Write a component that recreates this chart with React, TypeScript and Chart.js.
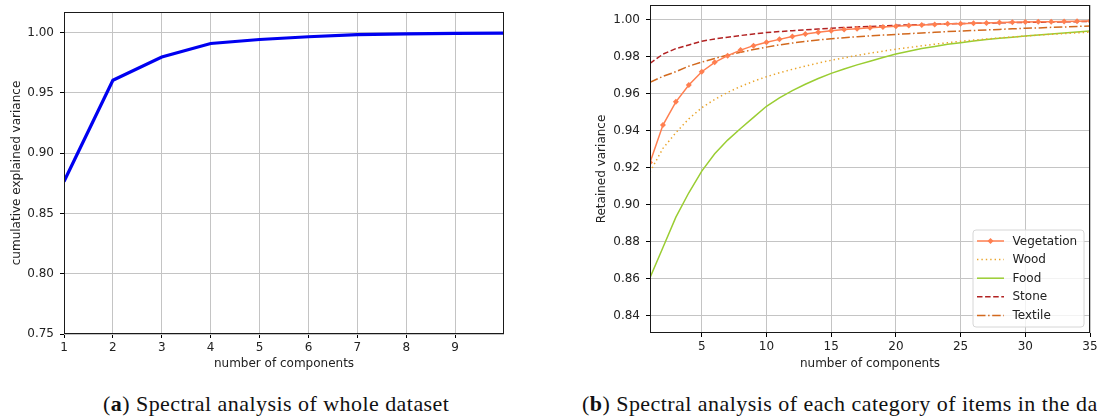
import React, { useEffect, useRef } from "react";
import { Chart, registerables } from "chart.js";

Chart.register(...registerables);

// ---------- Data: panel (a) ----------
const componentsA = [1, 2, 3, 4, 5, 6, 7, 8, 9, 10];
const cumulativeVariance = [0.8765, 0.9604, 0.9797, 0.9909, 0.9942, 0.9965, 0.9982, 0.9988, 0.9992, 0.9995];
const xTicksA = [1, 2, 3, 4, 5, 6, 7, 8, 9];
const yTicksA = [0.75, 0.8, 0.85, 0.9, 0.95, 1.0];

// ---------- Data: panel (b) ----------
const componentsB = [1, 2, 3, 4, 5, 6, 7, 8, 9, 10, 11, 12, 13, 14, 15, 16, 17, 18, 19, 20, 21, 22, 23, 24, 25, 26, 27, 28, 29, 30, 31, 32, 33, 34, 35];
const vegetation = [0.9229, 0.9431, 0.9557, 0.9648, 0.972, 0.9771, 0.9807, 0.9837, 0.9861, 0.9879, 0.9895, 0.991, 0.9924, 0.9933, 0.9942, 0.9948, 0.9953, 0.9958, 0.9962, 0.9966, 0.997, 0.9973, 0.9976, 0.9979, 0.998, 0.9982, 0.9984, 0.9986, 0.9987, 0.9989, 0.999, 0.9991, 0.9992, 0.9993, 0.9994];
const wood = [0.9178, 0.9305, 0.939, 0.9465, 0.9525, 0.957, 0.9608, 0.964, 0.9668, 0.9693, 0.9714, 0.9733, 0.975, 0.9767, 0.9782, 0.9795, 0.9808, 0.982, 0.9831, 0.9842, 0.9851, 0.986, 0.9869, 0.9877, 0.9885, 0.9891, 0.9897, 0.9903, 0.9908, 0.9913, 0.9918, 0.9922, 0.9926, 0.993, 0.9934];
const food = [0.8605, 0.8769, 0.8933, 0.9065, 0.9182, 0.9276, 0.935, 0.9413, 0.9473, 0.9533, 0.9578, 0.9618, 0.9652, 0.9683, 0.9711, 0.9735, 0.9757, 0.9777, 0.9797, 0.9816, 0.9831, 0.9845, 0.9857, 0.9868, 0.9877, 0.9886, 0.9894, 0.9901, 0.9907, 0.9913, 0.9919, 0.9924, 0.9929, 0.9935, 0.994];
const stone = [0.9765, 0.9815, 0.9845, 0.9865, 0.9885, 0.9897, 0.9907, 0.9916, 0.9924, 0.9932, 0.9937, 0.9942, 0.9947, 0.9951, 0.9955, 0.9959, 0.9962, 0.9965, 0.9968, 0.9971, 0.9973, 0.9975, 0.9977, 0.9979, 0.9981, 0.9982, 0.9983, 0.9985, 0.9986, 0.9987, 0.9988, 0.9989, 0.999, 0.9991, 0.9992];
const textile = [0.9662, 0.9695, 0.972, 0.975, 0.9772, 0.9792, 0.981, 0.9825, 0.984, 0.9853, 0.9865, 0.9875, 0.9884, 0.9892, 0.9899, 0.9904, 0.9909, 0.9914, 0.9918, 0.9922, 0.9926, 0.993, 0.9933, 0.9937, 0.994, 0.9943, 0.9946, 0.9949, 0.9952, 0.9955, 0.9957, 0.996, 0.9962, 0.9965, 0.9967];
const seriesLabels = ["Vegetation", "Wood", "Food", "Stone", "Textile"];
const xTicksB = [5, 10, 15, 20, 25, 30, 35];
const yTicksB = [0.84, 0.86, 0.88, 0.9, 0.92, 0.94, 0.96, 0.98, 1.0];

const FONT = "'DejaVu Sans', sans-serif";
const TEXT = "#222";
const GRID = "#c4c4c4";

const framePlugin = {
  id: "frame",
  afterDatasetsDraw(chart: any) {
    const { ctx, chartArea: a } = chart;
    ctx.save();
    ctx.strokeStyle = "#1a1a1a";
    ctx.lineWidth = 1;
    ctx.strokeRect(Math.round(a.left) + 0.5, Math.round(a.top) + 0.5, Math.round(a.right - a.left) - 1, Math.round(a.bottom - a.top) - 1);
    ctx.restore();
  },
};

const legendPlugin = {
  id: "innerLegend",
  afterDraw(chart: any) {
    const { ctx, chartArea: a } = chart;
    const right = a.right - 6;
    const bottom = a.bottom - 6;
    const w = 111;
    const h = 97;
    const left = right - w;
    const top = bottom - h;
    ctx.save();
    ctx.beginPath();
    const r = 3;
    ctx.moveTo(left + r, top);
    ctx.arcTo(right, top, right, bottom, r);
    ctx.arcTo(right, bottom, left, bottom, r);
    ctx.arcTo(left, bottom, left, top, r);
    ctx.arcTo(left, top, right, top, r);
    ctx.closePath();
    ctx.fillStyle = "rgba(255,255,255,0.8)";
    ctx.fill();
    ctx.strokeStyle = "#d6d6d6";
    ctx.lineWidth = 1;
    ctx.stroke();
    ctx.font = `12px ${FONT}`;
    ctx.textBaseline = "middle";
    ctx.textAlign = "left";
    chart.data.datasets.forEach((ds: any, i: number) => {
      const y = top + 11 + i * 18.6;
      ctx.beginPath();
      ctx.setLineDash(ds.borderDash || []);
      ctx.strokeStyle = ds.borderColor;
      ctx.lineWidth = ds.borderWidth;
      ctx.moveTo(left + 4, y);
      ctx.lineTo(left + 31, y);
      ctx.stroke();
      ctx.setLineDash([]);
      if (ds.pointRadius > 0) {
        const cx = left + 17.5;
        const pr = ds.pointRadius;
        ctx.beginPath();
        ctx.moveTo(cx, y - pr);
        ctx.lineTo(cx + pr, y);
        ctx.lineTo(cx, y + pr);
        ctx.lineTo(cx - pr, y);
        ctx.closePath();
        ctx.fillStyle = ds.pointBackgroundColor;
        ctx.fill();
      }
      ctx.fillStyle = TEXT;
      ctx.fillText(ds.label, left + 39.5, y + 0.5);
    });
    ctx.restore();
  },
};

function makeScales(opts: {
  xMin: number; xMax: number; xTicks: number[]; yMin: number; yMax: number; yTicks: number[];
  yWidth: number; xHeight: number; yTitle: string;
}) {
  return {
    x: {
      type: "linear" as const,
      min: opts.xMin,
      max: opts.xMax,
      afterBuildTicks: (s: any) => { s.ticks = opts.xTicks.map((v) => ({ value: v })); },
      afterFit: (s: any) => { s.height = opts.xHeight; s.paddingLeft = 0; s.paddingRight = 0; },
      grid: { color: GRID, lineWidth: 1, drawTicks: true, tickLength: 4, tickColor: "#000", tickWidth: 1 },
      border: { display: false },
      ticks: { color: TEXT, font: { family: FONT, size: 12 }, padding: 3, maxRotation: 0, autoSkip: false, callback: (v: any) => String(v) },
      title: { display: true, text: "number of components", color: TEXT, font: { family: FONT, size: 12 }, padding: { top: 0, bottom: 9 } },
    },
    y: {
      type: "linear" as const,
      min: opts.yMin,
      max: opts.yMax,
      afterBuildTicks: (s: any) => { s.ticks = opts.yTicks.map((v) => ({ value: v })); },
      afterFit: (s: any) => { s.width = opts.yWidth; s.paddingTop = 0; s.paddingBottom = 0; },
      grid: { color: GRID, lineWidth: 1, drawTicks: true, tickLength: 4, tickColor: "#000", tickWidth: 1 },
      border: { display: false },
      ticks: { color: TEXT, font: { family: FONT, size: 12 }, padding: 6, autoSkip: false, callback: (v: any) => Number(v).toFixed(2) },
      title: { display: true, text: opts.yTitle, color: TEXT, font: { family: FONT, size: 12 }, padding: { top: 10, bottom: 0 } },
    },
  };
}

function PanelA() {
  const ref = useRef<HTMLCanvasElement>(null);
  useEffect(() => {
    const chart = new Chart(ref.current!, {
      type: "line",
      data: {
        datasets: [
          {
            label: "cumulative explained variance",
            data: componentsA.map((x, i) => ({ x, y: cumulativeVariance[i] })),
            borderColor: "#0000f0",
            borderWidth: 3.2,
            pointRadius: 0,
            tension: 0,
          },
        ],
      },
      options: {
        animation: false,
        responsive: false,
        devicePixelRatio: 1,
        layout: { padding: { left: 0, top: 12, right: 16, bottom: 0 } },
        plugins: { legend: { display: false }, tooltip: { enabled: false } },
        scales: makeScales({ xMin: 1, xMax: 10, xTicks: xTicksA, yMin: 0.75, yMax: 1.017, yTicks: yTicksA, yWidth: 64, xHeight: 46, yTitle: "cumulative explained variance" }),
      },
      plugins: [framePlugin],
    });
    return () => chart.destroy();
  }, []);
  return <canvas ref={ref} width={520} height={380} style={{ position: "absolute", left: 0, top: 0 }} />;
}

function PanelB() {
  const ref = useRef<HTMLCanvasElement>(null);
  useEffect(() => {
    const series = [vegetation, wood, food, stone, textile];
    const styles = [
      { borderColor: "#ff7f50", borderDash: [], pointRadius: 3 },
      { borderColor: "#eaa52c", borderDash: [1.4, 3] },
      { borderColor: "#9acd32", borderDash: [] },
      { borderColor: "#b22222", borderDash: [5.5, 2.6] },
      { borderColor: "#d2691e", borderDash: [8.5, 2.6, 1.5, 2.6] },
    ];
    const chart = new Chart(ref.current!, {
      type: "line",
      data: {
        datasets: series.map((s, k) => ({
          label: seriesLabels[k],
          data: componentsB.map((x, i) => ({ x, y: s[i] })),
          borderColor: styles[k].borderColor,
          borderDash: styles[k].borderDash,
          borderWidth: 1.5,
          pointRadius: styles[k].pointRadius || 0,
          pointStyle: "rectRot",
          pointBackgroundColor: styles[k].borderColor,
          pointBorderColor: styles[k].borderColor,
          pointBorderWidth: 0,
          tension: 0,
        })),
      },
      options: {
        animation: false,
        responsive: false,
        devicePixelRatio: 1,
        layout: { padding: { left: 0, top: 5, right: 7, bottom: 0 } },
        plugins: { legend: { display: false }, tooltip: { enabled: false } },
        scales: makeScales({ xMin: 1, xMax: 35, xTicks: xTicksB, yMin: 0.8306, yMax: 1.0081, yTicks: yTicksB, yWidth: 65, xHeight: 47, yTitle: "Retained variance" }),
      },
      plugins: [framePlugin, legendPlugin],
    });
    return () => chart.destroy();
  }, []);
  return <canvas ref={ref} width={512} height={380} style={{ position: "absolute", left: 585, top: 0 }} />;
}

const captionStyle: React.CSSProperties = {
  position: "absolute",
  top: 393,
  fontFamily: "'Liberation Serif', serif",
  fontSize: 22,
  lineHeight: "22px",
  letterSpacing: "0.45px",
  whiteSpace: "nowrap",
  color: "#111",
};

export default function App() {
  useEffect(() => {
    document.body.style.margin = "0";
  }, []);
  return (
    <div style={{ position: "relative", width: 1097, height: 416, overflow: "hidden", background: "#fff" }}>
      <PanelA />
      <PanelB />
      <div style={{ ...captionStyle, left: 103 }}>
        (<b>a</b>) Spectral analysis of whole dataset
      </div>
      <div style={{ ...captionStyle, left: 582 }}>
        (<b>b</b>) Spectral analysis of each category of items in the dataset
      </div>
    </div>
  );
}
